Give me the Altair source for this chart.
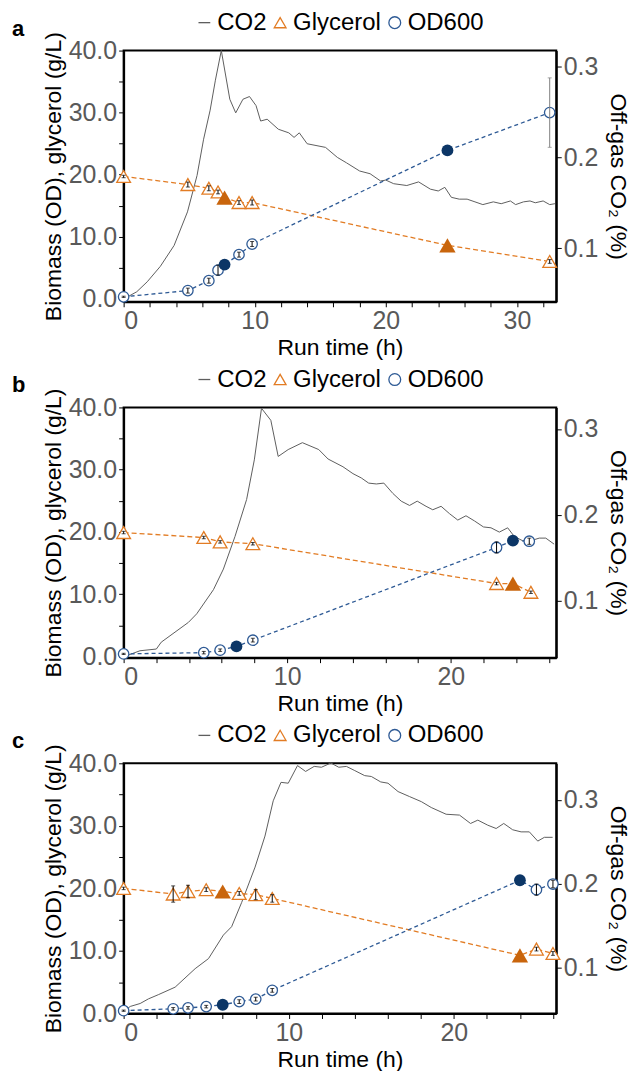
import altair as alt
import pandas as pd

FONT = "Liberation Sans"
ORANGE = "#E27C24"
ORANGE_FILL = "#C9650C"
BLUE = "#2E5A95"
BLUE_FILL = "#0C3666"
GRAY = "#5E5E5E"
SERIES = ["CO2", "Glycerol", "OD600"]

# ---------------- panel a ----------------
a_gly_t = [0, 4.9, 6.5, 7.2, 7.7, 8.8, 9.8, 24.7, 32.5]
a_gly = [19.7, 18.4, 17.8, 17.2, 16.3, 15.5, 15.5, 8.6, 6.0]
a_gly_err = [0.2, 0.4, 0.4, 0.3, 0.0, 0.3, 0.4, 0.0, 0.3]
a_gly_filled = [False, False, False, False, True, False, False, True, False]
a_od_t = [0, 4.9, 6.5, 7.2, 7.7, 8.8, 9.8, 24.7, 32.5]
a_od = [0.3, 1.3, 2.9, 4.6, 5.5, 7.1, 8.8, 23.9, 30.0]
a_od_err = [0.1, 0.4, 0.4, 0.8, 0.0, 0.4, 0.4, 0.0, 5.6]
a_od_filled = [False, False, False, False, True, False, False, True, False]
a_co2_t = [0, 1.0, 1.8, 2.8, 3.85, 4.87, 5.6, 6.1, 6.6, 7.0, 7.45, 8.1, 8.55, 9.1, 9.6,
           10.1, 10.45, 10.95, 11.8, 12.6, 13.0, 13.4, 14.0, 15.4, 16.3, 17.0, 18.0, 18.8,
           19.6, 20.0, 20.6, 21.6, 22.5, 23.4, 24.0, 24.5, 25.0, 25.6, 26.2, 26.8, 27.4,
           28.2, 28.8, 29.5, 29.9, 30.5, 31.0, 31.4, 32.0, 32.5, 32.9]
a_co2 = [0.044, 0.052, 0.063, 0.080, 0.103, 0.140, 0.180, 0.220, 0.252, 0.285, 0.3176,
         0.264, 0.249, 0.264, 0.267, 0.257, 0.240, 0.242, 0.231, 0.227, 0.222, 0.227,
         0.215, 0.211, 0.200, 0.194, 0.185, 0.182, 0.174, 0.175, 0.171, 0.169, 0.173,
         0.165, 0.163, 0.167, 0.156, 0.154, 0.154, 0.151, 0.148, 0.151, 0.149, 0.152,
         0.148, 0.151, 0.152, 0.150, 0.152, 0.148, 0.149]

# ---------------- panel b ----------------
b_gly_t = [0, 4.9, 5.9, 7.9, 22.8, 23.8, 24.9]
b_gly = [19.9, 19.1, 18.4, 18.1, 11.7, 11.7, 10.3]
b_gly_err = [0.2, 0.2, 0.2, 0.2, 0.2, 0.0, 0.2]
b_gly_filled = [False, False, False, False, False, True, False]
b_od_t = [0, 4.9, 5.9, 6.9, 7.9, 22.8, 23.8, 24.8]
b_od = [0.4, 0.6, 1.0, 1.6, 2.6, 17.5, 18.6, 18.5]
b_od_err = [0.1, 0.2, 0.2, 0.0, 0.3, 0.9, 0.0, 0.5]
b_od_filled = [False, False, False, True, False, False, True, False]
b_co2_t = [0, 1.0, 2.0, 2.3, 3.96, 4.47, 5.49, 6.1, 6.81, 7.52, 7.99, 8.43, 9.0, 9.45,
           10.06, 10.93, 11.93, 12.5, 13.41, 14.02, 14.53, 14.98, 15.45, 15.91, 16.46,
           16.97, 17.48, 17.95, 18.49, 18.9, 19.41, 19.92, 20.43, 20.93, 21.45, 22.0,
           22.46, 22.97, 23.48, 23.88, 24.39, 24.9, 25.41, 25.81, 26.32]
b_co2 = [0.035, 0.042, 0.044, 0.052, 0.075, 0.085, 0.113, 0.137, 0.175, 0.218, 0.264,
         0.324, 0.310, 0.268, 0.276, 0.284, 0.276, 0.265, 0.256, 0.248, 0.243, 0.237,
         0.236, 0.237, 0.225, 0.216, 0.211, 0.216, 0.210, 0.206, 0.210, 0.2015, 0.194,
         0.199, 0.193, 0.186, 0.185, 0.180, 0.185, 0.175, 0.170, 0.170, 0.173, 0.173, 0.166]

# ---------------- panel c ----------------
c_gly_t = [0, 3.0, 3.9, 5.0, 6.0, 7.0, 8.0, 9.0, 24.0, 25.0, 26.0]
c_gly = [20.0, 19.1, 19.5, 19.8, 19.5, 19.2, 19.0, 18.4, 9.3, 10.3, 9.6]
c_gly_err = [0.2, 1.3, 1.0, 0.3, 0.0, 0.3, 0.8, 0.6, 0.4, 0.3, 0.3]
c_gly_filled = [False, False, False, False, True, False, False, False, True, False, False]
c_od_t = [0, 3.0, 3.9, 5.0, 6.0, 7.0, 8.0, 9.0, 24.0, 25.0, 26.0]
c_od = [0.45, 0.75, 0.9, 1.1, 1.4, 1.9, 2.3, 3.7, 21.3, 19.8, 20.7]
c_od_err = [0.1, 0.2, 0.2, 0.2, 0.0, 0.3, 0.3, 0.3, 0.5, 0.9, 0.6]
c_od_filled = [False, False, False, False, True, False, False, False, True, False, False]
c_co2_t = [0, 0.4, 1.0, 1.5, 2.1, 3.12, 4.33, 5.14, 6.04, 6.54, 7.15, 7.96, 8.56, 9.06,
           9.53, 9.97, 10.53, 11.02, 11.54, 11.98, 12.55, 13.03, 13.49, 14.0, 14.6, 15.0,
           15.57, 16.01, 16.62, 17.32, 18.03, 18.63, 19.53, 20.34, 21.01, 21.45, 22.05,
           22.56, 23.02, 23.56, 24.07, 24.57, 25.08, 25.48, 25.98]
c_co2 = [0.048, 0.054, 0.0575, 0.063, 0.068, 0.077, 0.099, 0.111, 0.139, 0.149, 0.178,
         0.220, 0.257, 0.299, 0.321, 0.320, 0.341, 0.334, 0.340, 0.339, 0.344, 0.339,
         0.340, 0.335, 0.329, 0.328, 0.3215, 0.320, 0.310, 0.304, 0.298, 0.291, 0.283,
         0.282, 0.272, 0.276, 0.270, 0.266, 0.272, 0.2645, 0.262, 0.262, 0.251, 0.2555, 0.2555]


def panel(letter, gly_t, gly, gly_err, gly_filled, od_t, od, od_err, od_filled,
          co2_t, co2, xmax, ylo, co2_dom, height):
    gdf = pd.DataFrame({"t": gly_t, "v": gly, "e": gly_err, "f": gly_filled,
                        "series": "Glycerol"})
    odf = pd.DataFrame({"t": od_t, "v": od, "e": od_err, "f": od_filled,
                        "series": "OD600"})
    pts = pd.concat([gdf, odf], ignore_index=True)
    pts["lo"] = pts["v"] - pts["e"]
    pts["hi"] = pts["v"] + pts["e"]
    hollow_g = pts[(~pts["f"]) & (pts["series"] == "Glycerol")]
    hollow_o = pts[(~pts["f"]) & (pts["series"] == "OD600")]
    filled_g = pts[(pts["f"]) & (pts["series"] == "Glycerol")]
    filled_o = pts[(pts["f"]) & (pts["series"] == "OD600")]
    errs = pts[pts["e"] > 0]
    cdf = pd.DataFrame({"t": co2_t, "c": co2})

    xenc = alt.X(
        "t:Q",
        scale=alt.Scale(domain=[0, xmax], nice=False, zero=False),
        axis=alt.Axis(
            values=list(range(0, int(xmax) + 1, 2)),
            labelExpr="datum.value % 10 === 0 ? datum.value : ''",
            title="Run time (h)",
        ),
    )
    yscale = alt.Scale(domain=[ylo, 40], nice=False, zero=False)
    yaxis = alt.Axis(
        values=list(range(0, 41, 5)),
        labelExpr="datum.value % 10 === 0 ? format(datum.value, '.1f') : ''",
        title="Biomass (OD), glycerol (g/L)",
        orient="left",
    )
    yenc = alt.Y("v:Q", scale=yscale, axis=yaxis)

    legend = alt.Legend(
        title=None, orient="none", legendX=69, legendY=-40, direction="horizontal",
        labelFontSize=24, labelFont=FONT, labelColor="black", symbolSize=140,
        symbolStrokeWidth=1.3, labelOffset=1, columnPadding=1, padding=0,
    )
    shape_enc = alt.Shape("series:N", scale=alt.Scale(
        domain=SERIES, range=["stroke", "triangle-up", "circle"]), legend=legend)
    color_enc = alt.Color("series:N", scale=alt.Scale(
        domain=SERIES, range=[GRAY, ORANGE, BLUE]), legend=legend)

    gly_line = alt.Chart(gdf).mark_line(
        color=ORANGE, strokeDash=[5, 3], strokeWidth=1.3
    ).encode(x=xenc, y=yenc)
    od_line = alt.Chart(odf).mark_line(
        color=BLUE, strokeDash=[4, 3], strokeWidth=1.3
    ).encode(x=xenc, y=yenc)
    hg = alt.Chart(hollow_g).mark_point(
        filled=False, fill="white", strokeWidth=1.3, opacity=1, size=190
    ).encode(x=xenc, y=yenc, shape=shape_enc, color=color_enc)
    ho = alt.Chart(hollow_o).mark_point(
        filled=False, fill="white", strokeWidth=1.3, opacity=1, size=110
    ).encode(x=xenc, y=yenc, shape=shape_enc, color=color_enc)
    errcolor = alt.condition("datum.e > 3", alt.value("#808080"), alt.value("black"))
    err_rule = alt.Chart(errs).mark_rule(strokeWidth=1).encode(
        x=xenc, y=alt.Y("lo:Q", scale=yscale, axis=yaxis), y2="hi:Q", color=errcolor,
    )
    err_lo = alt.Chart(errs).mark_tick(orient="horizontal", size=4, thickness=1).encode(
        x=xenc, y=alt.Y("lo:Q", scale=yscale, axis=yaxis), color=errcolor,
    )
    err_hi = alt.Chart(errs).mark_tick(orient="horizontal", size=4, thickness=1).encode(
        x=xenc, y=alt.Y("hi:Q", scale=yscale, axis=yaxis), color=errcolor,
    )
    fg = alt.Chart(filled_g).mark_point(
        shape="triangle-up", filled=True, color=ORANGE_FILL, size=270, opacity=1
    ).encode(x=xenc, y=yenc)
    fo = alt.Chart(filled_o).mark_point(
        shape="circle", filled=True, color=BLUE_FILL, size=140, opacity=1
    ).encode(x=xenc, y=yenc)

    left = alt.layer(gly_line, od_line, hg, ho, err_rule, err_lo, err_hi, fg, fo)

    co2_line = alt.Chart(cdf).mark_line(color=GRAY, strokeWidth=1).encode(
        x=xenc,
        y=alt.Y("c:Q", scale=alt.Scale(domain=co2_dom, nice=False, zero=False),
                axis=alt.Axis(values=[0.1, 0.2, 0.3], format=".1f", orient="right",
                              title="Off-gas CO₂ (%)", titlePadding=8)),
    )

    return alt.layer(co2_line, left).resolve_scale(y="independent").properties(
        width=434, height=height,
        title=alt.TitleParams(letter, anchor="start", frame="group", dx=-112, dy=34,
                              fontSize=22, fontWeight="bold", font=FONT, color="black"),
    )


pa = panel("a", a_gly_t, a_gly, a_gly_err, a_gly_filled, a_od_t, a_od, a_od_err,
           a_od_filled, a_co2_t, a_co2, 33.0, -0.5, [0.041, 0.3176], 252)
pb = panel("b", b_gly_t, b_gly, b_gly_err, b_gly_filled, b_od_t, b_od, b_od_err,
           b_od_filled, b_co2_t, b_co2, 26.45, -0.2, [0.034, 0.325], 251)
pc = panel("c", c_gly_t, c_gly, c_gly_err, c_gly_filled, c_od_t, c_od, c_od_err,
           c_od_filled, c_co2_t, c_co2, 26.2, 0.0, [0.0456, 0.3437], 251)

chart = alt.vconcat(pa, pb, pc, spacing=106, bounds="flush").resolve_scale(
    color="independent", shape="independent"
).properties(
    padding={"left": 3, "top": 0, "right": 5, "bottom": 5}
).configure_view(
    stroke="black", strokeWidth=2
).configure_axis(
    labelFont=FONT, titleFont=FONT, labelFontSize=25, titleFontSize=23,
    labelColor="#595959", titleColor="black", titleFontWeight="normal",
    domainColor="black", domainWidth=2, tickColor="black", tickSize=5,
    grid=False, labelPadding=2, titlePadding=3,
)

chart.save("out.html", embed_options={"renderer": "svg", "actions": False})
